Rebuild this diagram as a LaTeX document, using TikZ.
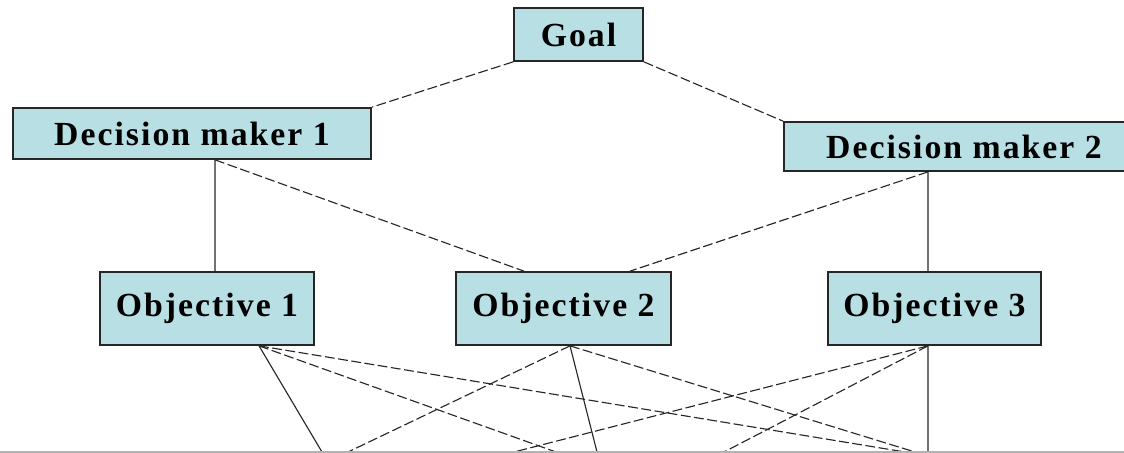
\documentclass[tikz,border=0pt]{standalone}
\usepackage{fontspec}
\setmainfont{Liberation Serif}
\newfontfamily\boxfont[LetterSpace=6]{Liberation Serif}

\definecolor{boxFill}{RGB}{184,223,228}

\tikzstyle{boxMain} = [draw = black!85,
                       fill = boxFill,
                       line width = 1.2pt,
                       inner sep = 0pt,
                       font = \boxfont\bfseries\fontsize{24}{28}\selectfont
                       ]
\tikzstyle{linkSolid} = [line width = 0.8pt, black!85]
\tikzstyle{linkDash} = [line width = 0.8pt, black!85,
                        dash pattern = on 7pt off 2.5pt
                        ]

\begin{document}
\begin{tikzpicture}[x = 0.025cm, y = -0.025cm]

    \useasboundingbox (0, 0) rectangle (1124, 453);
    \clip (0, 0) rectangle (1124, 453);

    %%% Levels
    % Goal %
    \node (goal) at (578.5, 34.5) [boxMain, minimum width = 3.225cm, minimum height = 1.325cm]{Goal};

    % Decision makers %
    \node (dm1) at (192, 133.5) [boxMain, minimum width = 8.95cm, minimum height = 1.275cm]{Decision maker 1};
    \node (dm2) at (964, 146.5) [boxMain, minimum width = 9cm, minimum height = 1.225cm]{Decision maker 2};

    % Objectives %
    \node (obj1) at (207, 308.5) [boxMain, minimum width = 5.35cm, minimum height = 1.825cm]{Objective 1};
    \node (obj2) at (563.5, 308.5) [boxMain, minimum width = 5.375cm, minimum height = 1.825cm]{Objective 2};
    \node (obj3) at (934.5, 308.5) [boxMain, minimum width = 5.325cm, minimum height = 1.825cm]{Objective 3};

    % Cut ends at the bottom
    \coordinate (o1a) at (322, 452);
    \coordinate (o1b) at (556, 452);
    \coordinate (o1c) at (905, 452);
    \coordinate (o2a) at (348, 452);
    \coordinate (o2b) at (597, 452);
    \coordinate (o2c) at (915, 452);
    \coordinate (o3a) at (514, 452);
    \coordinate (o3b) at (724, 452);
    \coordinate (o3c) at (928, 452);

    %%% Links
    % Goal to decision makers
    \draw[linkDash] (goal.south west) -- (dm1.north east);
    \draw[linkDash] (goal.south east) -- (dm2.north west);

    % Decision makers to objectives
    \draw[linkSolid] ([xshift = 0.575cm]dm1.south) -- ([xshift = 0.2cm]obj1.north);
    \draw[linkDash] ([xshift = 0.575cm]dm1.south) -- ([xshift = -0.9875cm]obj2.north);
    \draw[linkDash] ([xshift = -0.9cm]dm2.south) -- ([xshift = 1.6625cm]obj2.north);
    \draw[linkSolid] ([xshift = -0.9cm]dm2.south) -- ([xshift = -0.1625cm]obj3.north);

    % Objectives downwards
        % Objective 1
        \draw[linkSolid] ([xshift = 1.3cm]obj1.south) -- (o1a);
        \draw[linkDash] ([xshift = 1.3cm]obj1.south) -- (o1b);
        \draw[linkDash] ([xshift = 1.3cm]obj1.south) -- (o1c);

        % Objective 2
        \draw[linkDash] ([xshift = 0.1625cm]obj2.south) -- (o2a);
        \draw[linkSolid] ([xshift = 0.1625cm]obj2.south) -- (o2b);
        \draw[linkDash] ([xshift = 0.1625cm]obj2.south) -- (o2c);

        % Objective 3
        \draw[linkDash] ([xshift = -0.1625cm]obj3.south) -- (o3a);
        \draw[linkDash] ([xshift = -0.1625cm]obj3.south) -- (o3b);
        \draw[linkSolid] ([xshift = -0.1625cm]obj3.south) -- (o3c);

    % Bottom edge
    \draw[gray!60, line width = 1pt] (0, 452) -- (1124, 452);

\end{tikzpicture}
\end{document}
